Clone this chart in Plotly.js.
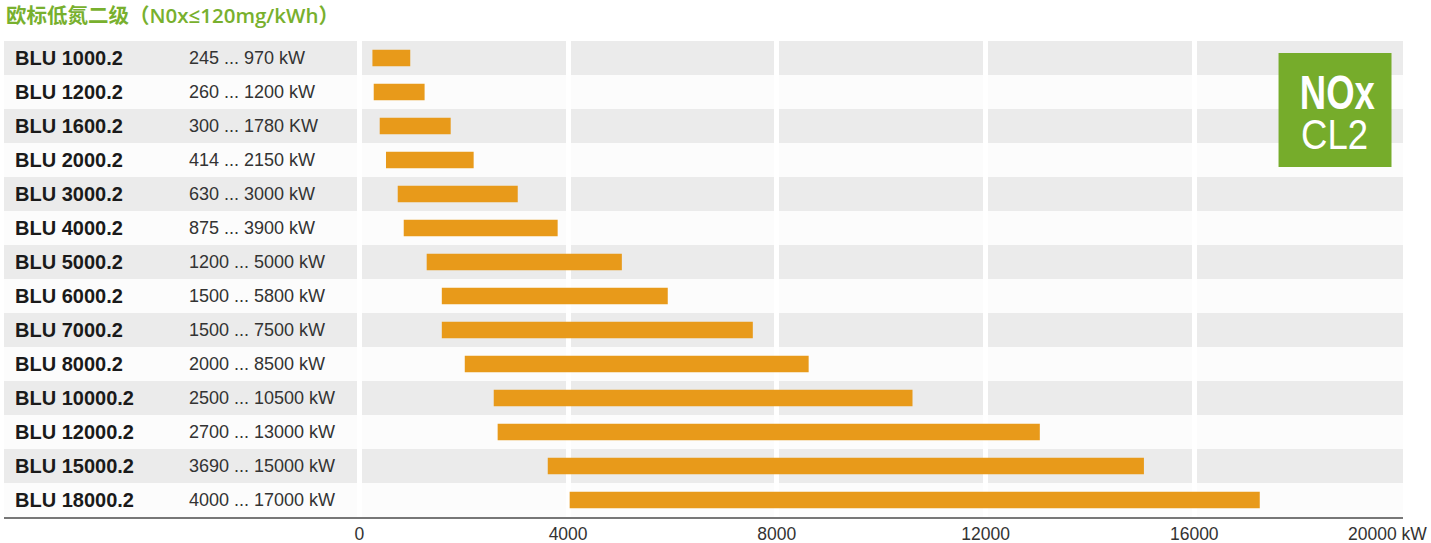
<!DOCTYPE html>
<html><head><meta charset="utf-8">
<script src="https://cdn.plot.ly/plotly-3.0.1.min.js"></script>
<style>html,body{margin:0;padding:0;background:#fff}</style></head>
<body><div id="chart" style="width:1431px;height:543px"></div>
<script>
const models = ["BLU 1000.2","BLU 1200.2","BLU 1600.2","BLU 2000.2","BLU 3000.2","BLU 4000.2","BLU 5000.2","BLU 6000.2","BLU 7000.2","BLU 8000.2","BLU 10000.2","BLU 12000.2","BLU 15000.2","BLU 18000.2"];
const rangeLabels = ["245 ... 970 kW","260 ... 1200 kW","300 ... 1780 KW","414 ... 2150 kW","630 ... 3000 kW","875 ... 3900 kW","1200 ... 5000 kW","1500 ... 5800 kW","1500 ... 7500 kW","2000 ... 8500 kW","2500 ... 10500 kW","2700 ... 13000 kW","3690 ... 15000 kW","4000 ... 17000 kW"];
const barStart = [250,275,390,510,735,850,1290,1580,1580,2020,2575,2650,3610,4030];
const barEnd = [975,1250,1750,2190,3035,3800,5030,5910,7540,8610,10600,13040,15035,17255];
const tickVals = [0,4000,8000,12000,16000];
const tickText = ["0","4000","8000","12000","16000"];
const titleText = "欧标低氮二级（N0x≤120mg/kWh）";

const W = 1431, H = 543;
const mL = 4, mR = 27.5, mT = 41, mB = 26;
const plotW = W - mL - mR, plotH = H - mT - mB;
const px = p => (p - mL) / plotW;
const py = p => 1 - (p - mT) / plotH;
const sans = '"Liberation Sans",Arial,sans-serif';

const shapes = models.map((m, i) => ({
  type: "rect", layer: "below", xref: "paper", yref: "y",
  x0: 0, x1: 1, y0: i - 0.5, y1: i + 0.5,
  fillcolor: i % 2 === 0 ? "#ebebeb" : "#fcfcfc", line: { width: 0 }
}));
shapes.push({
  type: "rect", layer: "above", xref: "paper", yref: "paper",
  x0: px(1279), x1: px(1392), y0: py(167), y1: py(53),
  fillcolor: "#76ac2b", line: { width: 0 }
});

const annotations = [];
models.forEach((m, i) => {
  annotations.push({ xref: "paper", yref: "y", x: px(13), y: i, text: m, showarrow: false, xanchor: "left", yanchor: "middle",
    font: { family: sans, size: 20, color: "#1a1a1a", weight: 700 } });
  annotations.push({ xref: "paper", yref: "y", x: px(187), y: i, text: rangeLabels[i], showarrow: false, xanchor: "left", yanchor: "middle",
    font: { family: sans, size: 18, color: "#333" } });
});
annotations.push({ xref: "paper", yref: "paper", x: px(1430), y: py(533.5), text: "20000 kW", showarrow: false, xanchor: "right", yanchor: "middle",
  font: { family: sans, size: 17.5, color: "#333" } });
annotations.push({ xref: "paper", yref: "paper", x: px(1337.5), y: py(92), text: "NOx", showarrow: false, xanchor: "center", yanchor: "middle",
  font: { family: sans, size: 49, color: "#fff", weight: 700 } });
annotations.push({ xref: "paper", yref: "paper", x: px(1335), y: py(134), text: "CL2", showarrow: false, xanchor: "center", yanchor: "middle",
  font: { family: sans, size: 42, color: "#fff" } });

const xMin = (mL - 359.5) / ((1403.5 - 359.5) / 20000);

Plotly.newPlot("chart", [{
  type: "bar", orientation: "h", y: models,
  base: barStart, x: barEnd.map((e, i) => e - barStart[i]),
  width: 0.48, marker: { color: "#e89a1a", line: { width: 0 } }, hoverinfo: "skip"
}], {
  width: W, height: H, showlegend: false,
  paper_bgcolor: "#fff", plot_bgcolor: "rgba(0,0,0,0)",
  margin: { l: mL, r: mR, t: mT, b: mB, pad: 0 },
  title: { text: titleText, x: 6 / W, xanchor: "left", xref: "container", y: 1 - 16 / H, yref: "container", yanchor: "middle",
    font: { family: '"Open Sans","Noto Sans CJK SC",sans-serif', size: 20.5, color: "#78b02e", weight: 600 } },
  xaxis: { range: [xMin, 20000], tickmode: "array", tickvals: tickVals, ticktext: tickText,
    showgrid: true, gridcolor: "#fff", gridwidth: 5, zeroline: false,
    showline: true, linecolor: "#777", linewidth: 2, ticks: "", ticklen: 0,
    tickfont: { family: sans, size: 17.5, color: "#333" }, fixedrange: true },
  yaxis: { type: "category", categoryorder: "array", categoryarray: models, range: [models.length - 0.5, -0.5],
    showticklabels: false, showgrid: false, zeroline: false, showline: false, ticks: "", fixedrange: true },
  shapes, annotations
}, { displayModeBar: false, staticPlot: true }).then(() => {
  const narrow = { "NOx": 0.745, "CL2": 0.87 };
  document.querySelectorAll("#chart .annotation-text").forEach(t => {
    const s = narrow[t.textContent];
    if (!s) return;
    const b = t.getBBox(), c = b.x + b.width / 2;
    t.setAttribute("transform", `translate(${c} 0) scale(${s} 1) translate(${-c} 0)`);
  });
});
</script></body></html>
